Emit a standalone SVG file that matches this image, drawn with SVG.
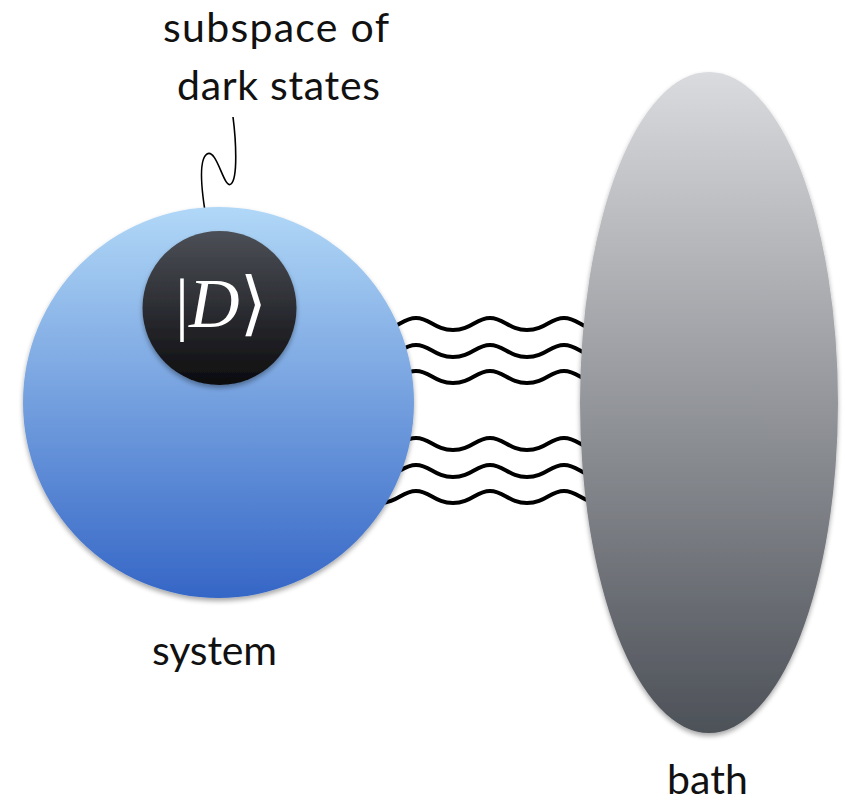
<svg xmlns="http://www.w3.org/2000/svg" width="845" height="804" viewBox="0 0 845 804">
  <defs>
    <linearGradient id="gBlue" x1="0" y1="0" x2="0" y2="1">
      <stop offset="0" stop-color="#b1d8f7"/>
      <stop offset="1" stop-color="#3566c6"/>
    </linearGradient>
    <linearGradient id="gDark" x1="0" y1="0" x2="0" y2="1">
      <stop offset="0" stop-color="#4c4f57"/>
      <stop offset="1" stop-color="#0c0c0e"/>
    </linearGradient>
    <linearGradient id="gBath" x1="0" y1="0" x2="0" y2="1">
      <stop offset="0" stop-color="#dadbde"/>
      <stop offset="1" stop-color="#4d5158"/>
    </linearGradient>
    <filter id="shadow" x="-10%" y="-10%" width="120%" height="120%">
      <feGaussianBlur in="SourceAlpha" stdDeviation="2.5"/>
      <feOffset dx="0" dy="3" result="b"/>
      <feComponentTransfer><feFuncA type="linear" slope="0.35"/></feComponentTransfer>
      <feMerge><feMergeNode/><feMergeNode in="SourceGraphic"/></feMerge>
    </filter>
    <path id="wave" d="M342 0 C356 0 361 12 379 12 C397 12 402 0 416 0 C430 0 435 12 453 12 C471 12 476 0 490 0 C504 0 509 12 527 12 C545 12 550 0 564 0 C578 0 583 12 601 12 C619 12 624 0 638 0"/>
  </defs>
  <style>
    .lbl { font-family: Lato, "Open Sans", "Noto Sans", sans-serif; font-size: 41px; fill: #111; }
    .wv { fill: none; stroke: #000; stroke-width: 4; }
    .sq { fill: none; stroke: #000; stroke-width: 1.6; }
  </style>

  <g id="connectors">
    <use href="#wave" class="wv" transform="translate(0,318)"/>
    <use href="#wave" class="wv" transform="translate(0,345)"/>
    <use href="#wave" class="wv" transform="translate(0,371)"/>
    <use href="#wave" class="wv" transform="translate(0,438)"/>
    <use href="#wave" class="wv" transform="translate(0,465)"/>
    <use href="#wave" class="wv" transform="translate(0,491)"/>
    <path class="sq" d="M207 223 C202 195 198 160 207 154 C217 148 224 190 231 184 C238 178 236 140 233 117"/>
  </g>

  <g id="system">
    <circle cx="218.5" cy="402.5" r="195.5" fill="url(#gBlue)" filter="url(#shadow)"/>
    <text class="lbl" x="152" y="665" textLength="125" lengthAdjust="spacing">system</text>
  </g>

  <g id="dark-states">
    <circle cx="219.5" cy="308" r="77" fill="url(#gDark)" filter="url(#shadow)"/>
    <text x="221" y="327" text-anchor="middle" fill="#fff" font-size="70" font-family="'Liberation Serif', 'DejaVu Serif', serif"><tspan>|</tspan><tspan font-style="italic">D</tspan><tspan font-family="'DejaVu Sans', 'DejaVu Serif', serif" font-weight="300">⟩</tspan></text>
  </g>

  <g id="bath">
    <ellipse cx="709" cy="402.5" rx="129" ry="330.5" fill="url(#gBath)" filter="url(#shadow)"/>
    <text class="lbl" x="667" y="794" textLength="81" lengthAdjust="spacing">bath</text>
  </g>

  <g id="label-dark">
    <text class="lbl" x="163" y="42" textLength="226" lengthAdjust="spacing">subspace of</text>
    <text class="lbl" x="177" y="100" textLength="203" lengthAdjust="spacing">dark states</text>
  </g>
</svg>
